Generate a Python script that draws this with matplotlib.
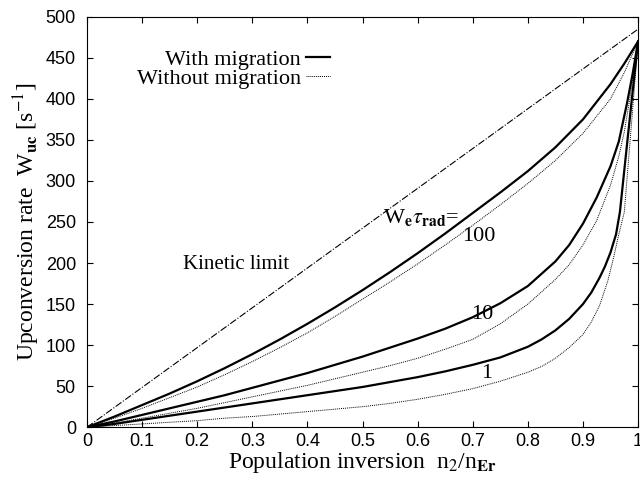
import numpy as np
import matplotlib; matplotlib.use("Agg")
import matplotlib.pyplot as plt

# n2/nEr grid and read-off upconversion rates (s^-1)
X_100 = [0, .05, .1, .15, .2, .25, .3, .35, .4, .45, .5, .55, .6, .65, .7, .75, .8, .85, .9, .95, .975, 1]
WITH_100 = [0, 13, 27, 41, 56, 72, 89, 107, 126, 146, 167, 189, 212, 236, 261, 286, 312, 341, 375, 418, 443, 470]
WITHOUT_100 = [0, 11, 23, 36, 49, 64, 80, 97, 115, 135, 156, 177, 199, 222, 246, 271, 297, 325, 358, 400, 432, 470]

X_10 = [0, .05, .1, .15, .2, .25, .3, .35, .4, .45, .5, .55, .6, .65, .7, .75, .8, .85, .875, .9, .925, .95, .965, .98, .99, 1]
WITH_10 = [0, 7, 15, 23, 31, 39, 48, 57, 66, 76, 86, 97, 108, 120, 134, 151, 172, 202, 222, 248, 280, 318, 348, 395, 430, 470]
X_10N = [0, .05, .1, .15, .2, .25, .3, .35, .4, .45, .5, .55, .6, .65, .7, .75, .8, .85, .875, .9, .925, .95, .965, .975, .985, 1]
WITHOUT_10 = [0, 5, 11, 17, 23, 30, 37, 44, 51, 59, 67, 75, 84, 95, 107, 126, 150, 180, 198, 222, 252, 295, 330, 360, 400, 470]

X_1W = [0, .05, .1, .15, .2, .25, .3, .35, .4, .45, .5, .55, .6, .65, .7, .75, .8, .825, .85, .875, .9, .915, .93, .94, .95, .96, .967, .98, .99, 1]
WITH_1 = [0, 4, 9, 14, 19, 24, 29, 34, 39, 44, 49, 55, 61, 68, 76, 85, 98, 107, 118, 132, 150, 164, 182, 196, 213, 235, 262, 345, 408, 470]
X_1N = [0, .05, .1, .15, .2, .25, .3, .35, .4, .45, .5, .55, .6, .65, .7, .75, .8, .825, .85, .875, .9, .915, .93, .945, .955, .965, .975, .99, 1]
WITHOUT_1 = [0, 2, 4, 6, 8, 11, 13, 16, 19, 22, 25, 29, 34, 40, 47, 56, 67, 74, 84, 97, 113, 128, 148, 178, 205, 235, 262, 386, 470]

KIN_X = [0, 1]
KIN_Y = [0, 485]

X_TICKS = [0, 0.1, 0.2, 0.3, 0.4, 0.5, 0.6, 0.7, 0.8, 0.9, 1]
X_TICKLABELS = ["0", "0.1", "0.2", "0.3", "0.4", "0.5", "0.6", "0.7", "0.8", "0.9", "1"]
Y_TICKS = list(range(0, 501, 50))

plt.rcParams["font.family"] = "Liberation Serif"
plt.rcParams["mathtext.fontset"] = "stix"

fig = plt.figure(figsize=(6.4, 4.8), dpi=100)
ax = fig.add_axes([0.136, 0.110, 0.861, 0.855])

dot = (0, (1, 1))
ax.plot(KIN_X, KIN_Y, color="black", lw=0.8, ls="-.")
l1, = ax.plot(X_100, WITH_100, color="black", lw=1.6)
l2, = ax.plot(X_100, WITHOUT_100, color="black", lw=0.7, ls=dot)
ax.plot(X_10, WITH_10, color="black", lw=1.6)
ax.plot(X_10N, WITHOUT_10, color="black", lw=0.7, ls=dot)
ax.plot(X_1W, WITH_1, color="black", lw=1.6)
ax.plot(X_1N, WITHOUT_1, color="black", lw=0.7, ls=dot)

ax.set_xlim(0, 1)
ax.set_ylim(0, 500)
ax.set_xticks(X_TICKS)
ax.set_xticklabels(X_TICKLABELS)
ax.set_yticks(Y_TICKS)
ax.tick_params(direction="in", top=True, right=True, length=4, width=0.8, labelsize=13)
ax.tick_params(axis="x", pad=4)
ax.tick_params(axis="y", pad=8)
for lab in ax.get_xticklabels() + ax.get_yticklabels():
    lab.set_fontfamily("Liberation Sans")

ax.set_xlabel(r"Population inversion  n$_2$/n$_\mathbf{Er}$", fontsize=17, labelpad=0)
ax.set_ylabel(r"Upconversion rate  W$_\mathbf{uc}$ [s$^{-1}$]", fontsize=17, labelpad=3)

ax.legend([l1, l2], ["With migration", "Without migration"], loc="upper right",
          bbox_to_anchor=(0.441, 0.92), frameon=False, markerfirst=False,
          handlelength=1.1, handletextpad=0.2, labelspacing=-0.1, borderpad=0,
          borderaxespad=0, fontsize=16)

ax.text(0.174, 198, "Kinetic limit", fontsize=15, va="center")
ax.text(0.537, 255, r"W$_\mathbf{e}\tau_\mathbf{rad}$=", fontsize=16, va="center")
ax.text(0.711, 232, "100", fontsize=16, ha="center", va="center")
ax.text(0.718, 137, "10", fontsize=16, ha="center", va="center")
ax.text(0.725, 66, "1", fontsize=16, ha="center", va="center")

fig.savefig("out.png", dpi=100)
